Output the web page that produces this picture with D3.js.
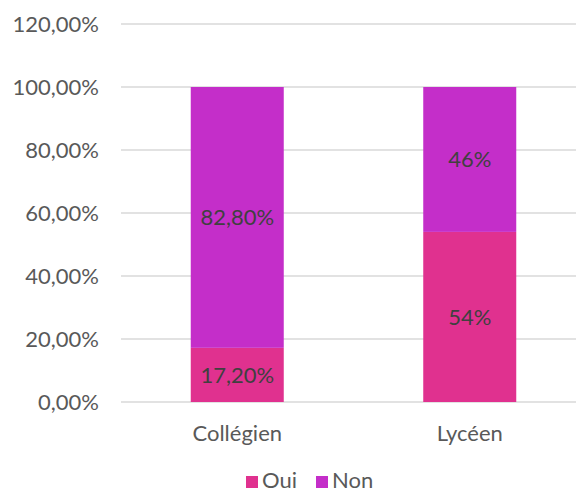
<!DOCTYPE html>
<html><head><meta charset="utf-8">
<script src="https://cdn.jsdelivr.net/npm/d3@7"></script>
<style>body{margin:0;background:#fff;} svg{display:block;font-family:Lato,"Open Sans",sans-serif;}</style>
</head><body>
<svg id="c" width="583" height="492"></svg>
<script>
const categories = ["Collégien", "Lycéen"];
const series = ["Oui", "Non"];
const ouiValues = [17.2, 54];
const nonValues = [82.8, 46];
const ouiLabels = ["17,20%", "54%"];
const nonLabels = ["82,80%", "46%"];
const yTicks = [0, 20, 40, 60, 80, 100, 120];
const colors = {"Oui": "#e0318f", "Non": "#c42ec9"};

(function () {
const svg = d3.select("#c");
const mLeft = 121, mRight = 586, mTop = 24, mBottom = 402;
const fs = "22px";
const x = d3.scaleBand().domain(categories).range([mLeft, mRight]).paddingInner(0.6).paddingOuter(0.3);
const y = d3.scaleLinear().domain([0, 120]).range([mBottom, mTop]);
const fmt = v => v.toFixed(2).replace(".", ",") + "%";

// gridlines
svg.append("g").selectAll("line").data(yTicks).join("line")
  .attr("x1", mLeft).attr("x2", 576)
  .attr("y1", d => y(d)).attr("y2", d => y(d))
  .attr("stroke", "#d9d9d9").attr("stroke-width", 1.5);

// y labels
const yAxis = d3.axisLeft(y).tickValues(yTicks).tickFormat(fmt).tickSize(0).tickPadding(0);
const ya = svg.append("g").attr("transform", `translate(99,0)`).call(yAxis);
ya.select(".domain").remove();
ya.selectAll("text").attr("fill", "#595959").style("font-size", fs).style("font-family", "Lato, sans-serif");

const rows = categories.map((c, i) => ({cat: c, Oui: ouiValues[i], Non: nonValues[i], OuiL: ouiLabels[i], NonL: nonLabels[i]}));
const stacked = d3.stack().keys(series)(rows);

stacked.forEach(s => {
  const g = svg.append("g");
  g.selectAll("rect").data(s).join("rect")
    .attr("x", d => x(d.data.cat))
    .attr("width", x.bandwidth())
    .attr("y", d => y(d[1]))
    .attr("height", d => y(d[0]) - y(d[1]))
    .attr("fill", colors[s.key]);
  g.selectAll("text").data(s).join("text")
    .attr("x", d => x(d.data.cat) + x.bandwidth() / 2)
    .attr("y", d => (y(d[0]) + y(d[1])) / 2)
    .attr("dy", "0.35em")
    .attr("text-anchor", "middle")
    .attr("fill", "#404040")
    .style("font-size", fs)
    .text(d => d.data[s.key + "L"]);
});

// x axis labels
const xa = svg.append("g").attr("transform", `translate(0,${mBottom})`)
  .call(d3.axisBottom(x).tickSize(0).tickPadding(0));
xa.select(".domain").remove();
xa.selectAll("text").attr("y", 39).attr("dy", 0).attr("fill", "#595959").style("font-size", fs).style("font-family", "Lato, sans-serif");

// legend
const legendX = [246, 316];
const lg = svg.append("g");
series.forEach((s, i) => {
  lg.append("rect").attr("x", legendX[i]).attr("y", 476).attr("width", 12).attr("height", 12).attr("fill", colors[s]);
  lg.append("text").attr("x", legendX[i] + 16).attr("y", 488).attr("fill", "#595959").style("font-size", fs).text(s);
});
})();
</script>
</body></html>
